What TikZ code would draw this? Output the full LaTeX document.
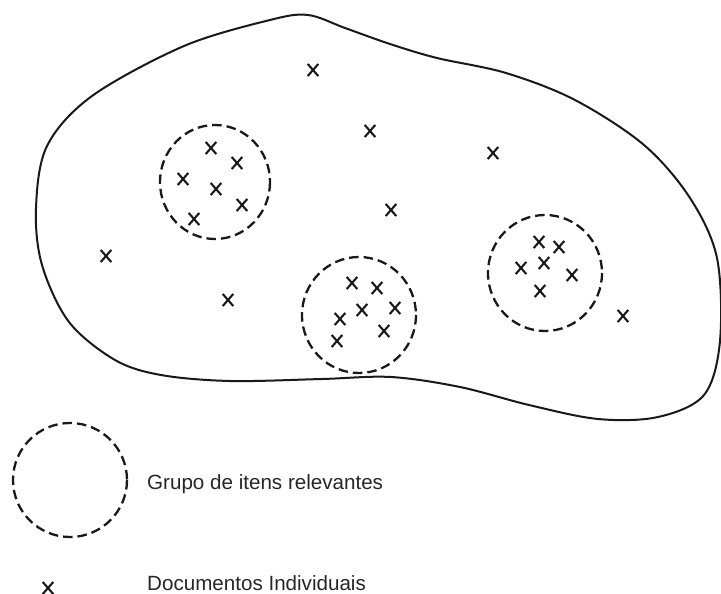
\documentclass[tikz,border=0pt]{standalone}
\usepackage{fontspec}
\setmainfont{Liberation Sans}
\usetikzlibrary{shapes.misc}
\tikzset{
  xmark/.style={cross out, draw=black!90, line width=2.1pt, minimum width=8.5pt, minimum height=10pt, inner sep=0pt},
  grupo/.style={draw=black!90, line width=2.3pt, dash pattern=on 9.5pt off 5pt},
  blob/.style={draw=black!90, line width=2pt},
  legtext/.style={anchor=base west, font=\fontsize{20.6}{24}\selectfont, text=black!85, inner sep=0pt}
}
\begin{document}
\begin{tikzpicture}[x=1pt,y=-1pt]
\useasboundingbox (0,0) rectangle (721,594);
% universe
\draw[blob] plot[smooth cycle, tension=0.55] coordinates {
 (308,15) (345,28) (390,44) (437,58) (506,73) (575,100) (644,145) (690,198) (717,258)
 (720,341) (704,395) (658,417) (598,419) (529,405) (460,387) (391,377) (322,379)
 (230,381) (161,375) (115,360) (69,322) (42,265) (36,208) (47,146) (92,96) (184,46) (270,20)};
% clusters
\draw[grupo] (215,182) ellipse [x radius=55, y radius=57];
\draw[grupo] (359,315) ellipse [x radius=57, y radius=58];
\draw[grupo] (545,273) ellipse [x radius=57, y radius=58];
% isolated documents
\foreach \p/\n in {{313,70}/o1,{370,131}/o2,{493,153}/o3,{391,210}/o4,{106,256}/o5,{228,300}/o6,{623,316}/o7}
  \node[xmark] (\n) at (\p) {};
% cluster 1
\foreach \p/\n in {{211,148}/a1,{237,163}/a2,{183,179}/a3,{216,189}/a4,{242,205}/a5,{194,219}/a6}
  \node[xmark] (\n) at (\p) {};
% cluster 2
\foreach \p/\n in {{352,283}/b1,{377,288}/b2,{362,310}/b3,{395,308}/b4,{340,319}/b5,{384,331}/b6,{337,341}/b7}
  \node[xmark] (\n) at (\p) {};
% cluster 3
\foreach \p/\n in {{539,242}/c1,{559,247}/c2,{544,263}/c3,{521,268}/c4,{572,275}/c5,{540,291}/c6}
  \node[xmark] (\n) at (\p) {};
% legend
\draw[grupo] (70,480) ellipse [x radius=57, y radius=57];
\node[legtext] (lg1) at (147,489) {Grupo de itens relevantes};
\node[xmark] (lx) at (48,588) {};
\node[legtext] (lg2) at (147,590) {Documentos Individuais};
\end{tikzpicture}
\end{document}
